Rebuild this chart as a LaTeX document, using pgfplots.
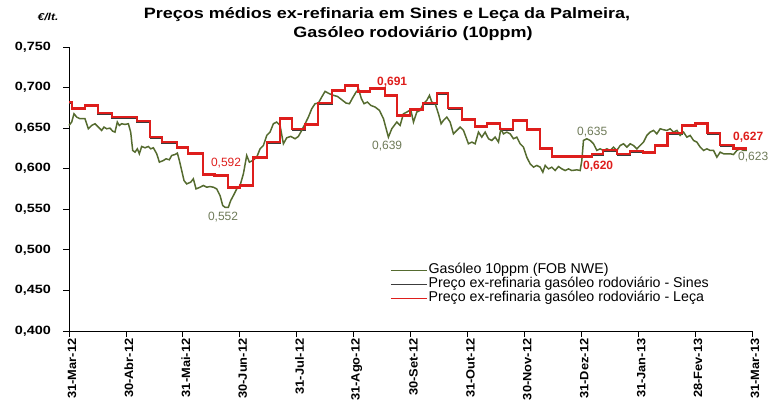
\documentclass[border=0pt]{standalone}
\usepackage{fontspec}
\setmainfont{Liberation Sans}
\newfontfamily\wide[FakeStretch=1.2]{Liberation Sans}
\newfontfamily\xwide[FakeStretch=1.07]{Liberation Sans}
\usepackage{pgfplots}
\pgfplotsset{compat=1.18}
\definecolor{gas}{RGB}{85,107,47}
\definecolor{gaslab}{RGB}{110,122,88}
\definecolor{leca}{RGB}{222,30,28}
\definecolor{sines}{RGB}{60,60,60}
\begin{document}
\begin{tikzpicture}
\path[use as bounding box] (-69pt,-72pt) rectangle (707pt,331pt);
\begin{axis}[
  scale only axis, width=683pt, height=284pt,
  xmin=0, xmax=12, ymin=0.4, ymax=0.75,
  axis lines*=left,
  axis line style={line width=0.8pt},
  tick align=outside, major tick length=6pt,
  tick style={black, line width=0.8pt},
  xtick={0,1,2,3,4,5,6,7,8,9,10,11,12},
  xticklabels={31-Mar-12,30-Abr-12,31-Mai-12,30-Jun-12,31-Jul-12,31-Ago-12,30-Set-12,31-Out-12,30-Nov-12,31-Dez-12,31-Jan-13,28-Fev-13,31-Mar-13},
  xticklabel style={xshift=3pt, rotate=90, anchor=east, font=\xwide\fontsize{12}{14}\selectfont\bfseries, inner sep=1.5pt},
  ytick={0.4,0.45,0.5,0.55,0.6,0.65,0.7,0.75},
  yticklabels={{0,400},{0,450},{0,500},{0,550},{0,600},{0,650},{0,700},{0,750}},
  yticklabel style={font=\wide\fontsize{12}{14}\selectfont\bfseries, inner sep=2pt, xshift=-10pt},
  clip=false,
  legend cell align=left,
  legend style={at={(axis description cs:0.47,0.239)}, anchor=north west, draw=none, fill=none,
    font=\fontsize{14.2}{15}\selectfont, inner sep=0pt,
    nodes={inner sep=1pt, text height=9pt, text depth=3pt}},
  legend image code/.code={\draw[#1, line width=1.4pt] (0pt,0pt) -- (36pt,0pt);},
]
\addlegendimage{gas}
\addlegendentry{Gasóleo 10ppm (FOB NWE)}
\addlegendimage{sines}
\addlegendentry{Preço ex-refinaria gasóleo rodoviário - Sines}
\addlegendimage{leca}
\addlegendentry{Preço ex-refinaria gasóleo rodoviário - Leça}

% Sines (step)
\addplot[const plot, sines, line width=1.1pt, forget plot] coordinates {
(0,0.6806) (0.053,0.6726) (0.281,0.6766) (0.510,0.6671) (0.756,0.6622) (1.195,0.6572)
(1.424,0.6376) (1.634,0.6316) (1.898,0.6246) (2.091,0.6176) (2.355,0.5916) (2.560,0.5906)
(2.794,0.5756) (3.005,0.5776) (3.234,0.6126) (3.480,0.6316) (3.708,0.6602) (3.919,0.6476)
(4.148,0.6532) (4.376,0.6796) (4.622,0.6951) (4.851,0.7013) (5.079,0.6939) (5.290,0.6972)
(5.554,0.6886) (5.764,0.6643) (5.993,0.6713) (6.221,0.6796) (6.467,0.6918) (6.661,0.6736)
(6.907,0.6590) (7.135,0.6506) (7.346,0.6540) (7.575,0.6476) (7.803,0.6581) (8.049,0.6466)
(8.278,0.6232) (8.489,0.6136) (9.192,0.6169) (9.385,0.6216) (9.631,0.6166) (9.859,0.6202)
(10.088,0.6186) (10.299,0.6273) (10.510,0.6426) (10.773,0.6519) (11.002,0.6540) (11.213,0.6426)
(11.441,0.6276) (11.670,0.6232) (11.916,0.6232)
};

% Gasoleo 10ppm
\addplot[gas, line width=1.5pt, forget plot] coordinates {
(0.000,0.6533) (0.047,0.6575) (0.088,0.6677) (0.135,0.6636) (0.193,0.6616) (0.281,0.6616)
(0.340,0.6492) (0.398,0.6533) (0.457,0.6554) (0.515,0.6513) (0.574,0.6472) (0.615,0.6513)
(0.662,0.6492) (0.720,0.6500) (0.767,0.6463) (0.808,0.6451) (0.849,0.6575) (0.884,0.6533)
(0.925,0.6554) (0.984,0.6546) (1.043,0.6554) (1.084,0.6451) (1.119,0.6225) (1.160,0.6204)
(1.201,0.6245) (1.236,0.6184) (1.277,0.6274) (1.336,0.6258) (1.394,0.6274) (1.435,0.6245)
(1.482,0.6258) (1.541,0.6184) (1.588,0.6081) (1.658,0.6101) (1.705,0.6122) (1.763,0.6110)
(1.804,0.6163) (1.863,0.6175) (1.904,0.6192) (1.939,0.6101) (1.980,0.5978) (2.021,0.5854)
(2.068,0.5813) (2.138,0.5834) (2.185,0.5875) (2.232,0.5751) (2.302,0.5772) (2.361,0.5793)
(2.420,0.5772) (2.478,0.5780) (2.537,0.5772) (2.595,0.5751) (2.654,0.5669) (2.701,0.5546)
(2.742,0.5525) (2.800,0.5525) (2.841,0.5607) (2.888,0.5669) (2.947,0.5751) (3.005,0.5793)
(3.064,0.5937) (3.122,0.6163) (3.169,0.6081) (3.228,0.6101) (3.298,0.6142) (3.357,0.6245)
(3.415,0.6286) (3.474,0.6410) (3.532,0.6451) (3.591,0.6554) (3.649,0.6575) (3.708,0.6533)
(3.767,0.6307) (3.825,0.6381) (3.896,0.6398) (3.972,0.6369) (4.030,0.6398) (4.089,0.6472)
(4.148,0.6554) (4.206,0.6636) (4.265,0.6739) (4.323,0.6801) (4.382,0.6809) (4.440,0.6883)
(4.499,0.6953) (4.575,0.6924) (4.645,0.6904) (4.716,0.6891) (4.792,0.6850) (4.868,0.6809)
(4.927,0.6801) (4.985,0.6875) (5.044,0.6945) (5.091,0.6974) (5.137,0.6863) (5.184,0.6801)
(5.243,0.6821) (5.302,0.6780) (5.378,0.6760) (5.454,0.6719)
(5.525,0.6616) (5.612,0.6389) (5.671,0.6492) (5.759,0.6575) (5.817,0.6533) (5.876,0.6677)
(5.935,0.6698) (6.005,0.6727) (6.052,0.6575) (6.110,0.6698) (6.169,0.6719) (6.228,0.6801)
(6.286,0.6842) (6.333,0.6904) (6.374,0.6821) (6.433,0.6801) (6.491,0.6677) (6.538,0.6554)
(6.579,0.6595) (6.638,0.6636) (6.696,0.6575) (6.755,0.6430) (6.813,0.6472) (6.872,0.6513)
(6.931,0.6472) (7.018,0.6307) (7.077,0.6328) (7.136,0.6307) (7.194,0.6451) (7.253,0.6389)
(7.311,0.6451) (7.370,0.6369) (7.428,0.6348) (7.487,0.6389) (7.546,0.6328) (7.587,0.6492)
(7.633,0.6430) (7.692,0.6451) (7.751,0.6430) (7.809,0.6369) (7.868,0.6389) (7.926,0.6307)
(7.985,0.6266) (8.043,0.6142) (8.102,0.6060) (8.161,0.6019) (8.219,0.6040) (8.278,0.6019)
(8.325,0.5957) (8.366,0.6040) (8.424,0.5998) (8.483,0.6019) (8.541,0.5978) (8.600,0.6027)
(8.659,0.5998) (8.717,0.5978) (8.776,0.5998) (8.834,0.5978) (8.922,0.5986) (8.981,0.5978)
(9.010,0.6101) (9.039,0.6348) (9.098,0.6369) (9.157,0.6348) (9.215,0.6307) (9.274,0.6225)
(9.332,0.6245) (9.391,0.6225) (9.449,0.6245) (9.508,0.6225) (9.567,0.6266) (9.625,0.6225)
(9.684,0.6286) (9.742,0.6307) (9.801,0.6266) (9.860,0.6307) (9.918,0.6286) (9.977,0.6245)
(10.035,0.6286) (10.094,0.6328) (10.152,0.6410) (10.211,0.6451) (10.270,0.6472) (10.328,0.6430)
(10.387,0.6492) (10.445,0.6480) (10.504,0.6472) (10.563,0.6492) (10.621,0.6451) (10.680,0.6472)
(10.738,0.6410) (10.797,0.6451) (10.855,0.6389) (10.914,0.6410) (10.973,0.6348) (11.031,0.6328)
(11.090,0.6266) (11.148,0.6225) (11.207,0.6245) (11.265,0.6225) (11.324,0.6225) (11.383,0.6142)
(11.441,0.6204) (11.500,0.6184) (11.558,0.6184) (11.617,0.6184) (11.675,0.6175) (11.734,0.6225)
(11.793,0.6245) (11.851,0.6225) (11.910,0.6225)
};

% Leca (step)
\addplot[const plot, leca, line width=2.6pt, forget plot] coordinates {
(0,0.682) (0.053,0.674) (0.281,0.678) (0.510,0.6685) (0.756,0.6636) (1.195,0.6586)
(1.424,0.639) (1.634,0.633) (1.898,0.626) (2.091,0.619) (2.355,0.593) (2.560,0.592)
(2.794,0.577) (3.005,0.579) (3.234,0.614) (3.480,0.633) (3.708,0.6616) (3.919,0.649)
(4.148,0.6546) (4.376,0.681) (4.622,0.6965) (4.851,0.7027) (5.079,0.6953) (5.290,0.6986)
(5.554,0.690) (5.764,0.6657) (5.993,0.6727) (6.221,0.681) (6.467,0.6932) (6.661,0.675)
(6.907,0.6604) (7.135,0.652) (7.346,0.6554) (7.575,0.649) (7.803,0.6595) (8.049,0.648)
(8.278,0.6246) (8.489,0.615) (9.192,0.6183) (9.385,0.623) (9.631,0.618) (9.859,0.6216)
(10.088,0.620) (10.299,0.6287) (10.510,0.644) (10.773,0.6533) (11.002,0.6554) (11.213,0.644)
(11.441,0.629) (11.670,0.6246) (11.916,0.6246)
};

% data labels
\begin{scope}[every node/.style={font=\fontsize{12}{14}\selectfont}]
\node[gaslab] at (axis cs:2.707,0.5398) {0,552};
\node[leca] at (axis cs:2.759,0.6064) {0,592};
\node[leca, font=\fontsize{12}{14}\selectfont\bfseries] at (axis cs:5.677,0.7064) {0,691};
\node[gaslab] at (axis cs:5.589,0.6274) {0,639};
\node[gaslab] at (axis cs:9.192,0.6447) {0,635};
\node[leca, font=\fontsize{12}{14}\selectfont\bfseries] at (axis cs:9.297,0.6027) {0,620};
\node[leca, font=\fontsize{12}{14}\selectfont\bfseries] at (axis cs:11.933,0.6386) {0,627};
\node[gaslab] at (axis cs:12.021,0.6139) {0,623};
\end{scope}
\end{axis}
\node[anchor=base, font=\wide\fontsize{15}{17}\selectfont\bfseries] at (318pt,312.7pt) {Preços médios ex-refinaria em Sines e Leça da Palmeira,};
\node[anchor=base, font=\wide\fontsize{15}{17}\selectfont\bfseries] at (344pt,293.7pt) {Gasóleo rodoviário (10ppm)};
\node[anchor=base, font=\wide\fontsize{10}{12}\selectfont\bfseries\itshape] at (-21pt,310pt) {€/lt.};
\end{tikzpicture}
\end{document}
